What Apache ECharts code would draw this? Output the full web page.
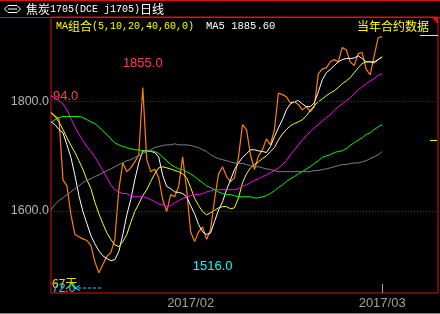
<!DOCTYPE html>
<html><head><meta charset="utf-8">
<script src="https://cdn.jsdelivr.net/npm/echarts@6/dist/echarts.min.js"></script>
<style>html,body{margin:0;padding:0;background:#000;}#c{width:440px;height:314px;}</style>
</head><body><div id="c"></div>
<script>
// ---- data ----
const closeLine = [1780,1774,1769,1657,1646,1593,1557,1553,1549,1546,
 1537,1507,1487,1502,1517,1524,1548,1639,1688,1672,
 1679,1690,1703,1826,1694,1672,1677,1661,1621,1599,
 1630,1626,1645,1699,1639,1562,1544,1562,1571,1548,
 1566,1621,1668,1681,1663,1654,1661,1699,1758,1749,
 1703,1676,1701,1712,1732,1721,1749,1816,1813,1809,
 1798,1800,1795,1785,1791,1782,1791,1851,1860,1862,
 1873,1877,1873,1899,1895,1873,1866,1888,1890,1859,
 1849,1884,1917,1919];
const ma5 = [1763,1758,1749,1743,1721,1698,1665,1628,1599,1577,
 1555,1540,1527,1518,1513,1509,1511,1526,1557,1593,
 1621,1657,1688,1710,1710,1709,1707,1699,1665,1645,
 1641,1635,1634,1632,1626,1610,1595,1575,1562,1557,
 1560,1581,1602,1617,1639,1657,1676,1688,1698,1705,
 1712,1712,1710,1709,1707,1718,1736,1752,1767,1785,
 1796,1800,1802,1796,1791,1791,1798,1818,1840,1853,
 1859,1866,1873,1877,1879,1879,1880,1884,1879,1873,
 1873,1871,1877,1882];
const ma10 = [1780,1773,1763,1749,1734,1720,1707,1692,1676,1657,
 1641,1616,1595,1577,1560,1548,1538,1535,1544,1557,
 1579,1599,1613,1628,1639,1654,1668,1679,1681,1679,
 1677,1674,1672,1668,1661,1643,1623,1610,1599,1593,
 1597,1601,1606,1608,1608,1604,1606,1624,1652,1668,
 1679,1685,1690,1696,1701,1709,1716,1730,1741,1749,
 1756,1760,1763,1767,1774,1784,1793,1800,1805,1811,
 1816,1820,1826,1833,1838,1844,1853,1862,1870,1873,
 1873,1873,1877,1882];
const ma20 = [1811,1807,1802,1796,1785,1769,1754,1740,1729,1718,
 1709,1699,1687,1674,1661,1648,1639,1635,1632,1632,
 1628,1626,1626,1626,1624,1621,1617,1613,1612,1608,
 1610,1615,1619,1623,1626,1628,1630,1630,1632,1635,
 1637,1639,1639,1639,1639,1639,1639,1641,1645,1648,
 1652,1656,1659,1663,1666,1670,1674,1679,1685,1692,
 1703,1712,1721,1730,1738,1745,1752,1758,1765,1771,
 1776,1784,1791,1796,1802,1807,1815,1822,1827,1833,
 1838,1842,1848,1851];
const ma40 = [1762,1767,1771,1773,1773,1773,1773,1773,1771,1767,
 1763,1760,1754,1747,1740,1732,1725,1721,1718,1716,
 1714,1712,1712,1710,1710,1710,1709,1705,1699,1692,
 1685,1681,1677,1676,1672,1668,1663,1657,1652,1646,
 1643,1639,1635,1632,1630,1630,1628,1626,1626,1626,
 1626,1624,1624,1626,1628,1632,1637,1643,1648,1654,
 1659,1663,1668,1672,1677,1681,1687,1692,1698,1701,
 1703,1707,1709,1710,1714,1720,1725,1730,1734,1740,
 1743,1749,1754,1758];
const ma60 = [1602,1612,1619,1624,1630,1635,1641,1646,1652,1656,
 1659,1663,1666,1670,1674,1677,1681,1685,1688,1692,
 1694,1698,1701,1705,1709,1712,1716,1718,1720,1721,
 1721,1723,1721,1721,1721,1720,1718,1716,1712,1709,
 1703,1699,1696,1694,1692,1690,1688,1687,1687,1685,
 1683,1681,1681,1679,1677,1676,1674,1672,1672,1672,
 1672,1672,1672,1672,1672,1672,1674,1674,1676,1677,
 1679,1681,1683,1685,1685,1687,1688,1688,1690,1692,
 1696,1699,1703,1709];
const dayCount = 98;
const days = Array.from({length: dayCount}, (_, i) => 'D' + i);
const xTickIdx = [35, 83];
const xTickText = ['2017/02', '2017/03'];
const yTicks = [1600, 1800];
const highMark = {idx: 23, value: 1855.0};
const lowMark = {idx: 40, value: 1516.0};
const titleCn1 = '焦炭', titleAscii = '1705(DCE j1705)', titleCn2 = '日线';
const legendText = ['MA', '组合', '(5,10,20,40,60,0)'];
const ma5Legend = 'MA5 1885.60';
const cornerText = '当年合约数据';

// ---- chart ----
const chart = echarts.init(document.getElementById('c'), null, {renderer: 'canvas'});
const mono = '"Liberation Mono", monospace';
const cjk = '"Noto Sans CJK SC", sans-serif';
const sans = '"Liberation Sans", Arial, sans-serif';
const RED = '#e01010';

function line(name, data, color, w) {
  return {name, type: 'line', data, showSymbol: false, symbol: 'none', smooth: false,
    lineStyle: {color, width: w || 1}, silent: true, z: 3};
}

const orange = line('close', closeLine, '#ff8000', 1.2);
orange.markLine = {
  silent: true, symbol: 'none', label: {show: false},
  lineStyle: {color: '#a00000', type: [1, 2], width: 1},
  data: yTicks.map(v => ({yAxis: v}))
};
orange.markPoint = {
  silent: true, symbol: 'circle', symbolSize: 0,
  data: [
    {coord: [days[highMark.idx], highMark.value], value: highMark.value,
     label: {show: true, position: 'inside', offset: [0, -8], color: '#ff4040', fontSize: 13, fontFamily: sans,
       formatter: p => p.value.toFixed(1)}},
    {coord: [days[lowMark.idx], lowMark.value], value: lowMark.value,
     label: {show: true, position: 'inside', offset: [2, 9], color: '#00ffff', fontSize: 13, fontFamily: sans,
       formatter: p => p.value.toFixed(1)}}
  ]
};

chart.setOption({
  animation: false,
  backgroundColor: '#000',
  grid: {left: 51, right: 2, top: 17, bottom: 21, show: true, borderColor: RED, borderWidth: 1, backgroundColor: 'transparent'},
  xAxis: {
    type: 'category', data: days, boundaryGap: false,
    axisLine: {show: false},
    axisTick: {show: true, inside: true, length: 9, interval: (i) => i === xTickIdx[1], lineStyle: {color: '#a0a0a0'}},
    axisLabel: {interval: (i) => xTickIdx.includes(i), margin: 4, color: '#a0a0a0', fontSize: 13, fontFamily: sans,
      formatter: (v, i) => { const k = xTickIdx.indexOf(i); return k >= 0 ? xTickText[k] : ''; }},
    splitLine: {show: false}
  },
  yAxis: {
    type: 'value', min: 1450, max: 1955, interval: 50,
    axisLine: {show: false}, axisTick: {show: false}, splitLine: {show: false},
    axisLabel: {margin: 2, color: '#b4b4b4', fontSize: 12.5, fontFamily: sans,
      formatter: v => yTicks.includes(v) ? v.toFixed(1) : ''}
  },
  series: [
    orange,
    line('MA5', ma5, '#ffffff'),
    line('MA10', ma10, '#ffff00'),
    line('MA20', ma20, '#ff00ff'),
    line('MA40', ma40, '#00ff00'),
    line('MA60', ma60, '#808080')
  ],
  graphic: [
    {type: 'rect', shape: {x: 0, y: 0, width: 440, height: 1}, style: {fill: RED}, silent: true},
    {type: 'line', shape: {x1: 0, y1: 17.5, x2: 440, y2: 17.5}, style: {stroke: RED, lineWidth: 1}, silent: true},
    {type: 'line', shape: {x1: 0, y1: 313.5, x2: 440, y2: 313.5}, style: {stroke: '#808080', lineWidth: 1}, silent: true},
    // icon
    {type: 'polyline', shape: {points: [[12, 5.5], [8, 5.5], [4.5, 9], [8, 12.5], [12, 12.5]]}, style: {stroke: '#ffffff', lineWidth: 1, fill: null}, silent: true},
    {type: 'polyline', shape: {points: [[12, 5.5], [17, 5.5], [20.5, 9], [17, 12.5], [12, 12.5]]}, style: {stroke: '#ffffff', lineWidth: 1, fill: null}, silent: true},
    {type: 'line', shape: {x1: 8, y1: 9, x2: 17, y2: 9}, style: {stroke: '#ffffff', lineWidth: 1}, silent: true},
    // title
    {type: 'text', x: 26, y: 9, silent: true, style: {
      text: '{c|' + titleCn1 + '}{m|' + titleAscii + '}{c|' + titleCn2 + '}', verticalAlign: 'middle',
      rich: {c: {fill: '#ffffff', fontSize: 12, fontFamily: cjk}, m: {fill: '#ffffff', fontSize: 10, fontFamily: mono}}}},
    // legend
    {type: 'text', x: 56, y: 26, silent: true, style: {
      text: '{m|' + legendText[0] + '}{c|' + legendText[1] + '}{m|' + legendText[2] + '}', verticalAlign: 'middle',
      rich: {c: {fill: '#ffff00', fontSize: 12, fontFamily: cjk}, m: {fill: '#ffff00', fontSize: 10, fontFamily: mono}}}},
    {type: 'text', x: 206, y: 26, silent: true, style: {text: ma5Legend, fill: '#ffffff', fontSize: 10.5, fontFamily: mono, verticalAlign: 'middle'}},
    {type: 'text', x: 357, y: 26.5, silent: true, style: {text: cornerText, fill: '#ffff00', fontSize: 12, fontFamily: cjk, verticalAlign: 'middle'}},
    {type: 'line', shape: {x1: 420, y1: 35.5, x2: 438, y2: 35.5}, style: {stroke: '#ffff00', lineWidth: 1}, silent: true},
    {type: 'line', shape: {x1: 430, y1: 140.5, x2: 437, y2: 140.5}, style: {stroke: '#ffff00', lineWidth: 1}, silent: true},
    {type: 'polygon', shape: {points: [[432, 18], [438, 18], [438, 24]]}, style: {fill: RED}, silent: true},
    // side labels
    {type: 'text', x: 53, y: 96, silent: true, style: {text: '94.0', fill: '#ff4040', fontSize: 13, fontFamily: sans, verticalAlign: 'middle'}},
    {type: 'text', x: 52, y: 283, silent: true, style: {text: '67天', fill: '#e0e000', fontSize: 12, fontFamily: cjk, verticalAlign: 'middle'}},
    {type: 'text', x: 52, y: 288.5, silent: true, style: {text: '72.0', fill: '#00e0ff', fontSize: 12, fontFamily: sans, verticalAlign: 'middle'}},
    {type: 'polyline', shape: {points: [[80, 285.5], [75, 288], [80, 290.5]]}, style: {stroke: '#00e0ff', lineWidth: 1, fill: null}, silent: true},
    {type: 'line', shape: {x1: 78, y1: 288, x2: 103, y2: 288}, style: {stroke: '#00e0ff', lineWidth: 1, lineDash: [3, 2]}, silent: true}
  ]
});
</script></body></html>
